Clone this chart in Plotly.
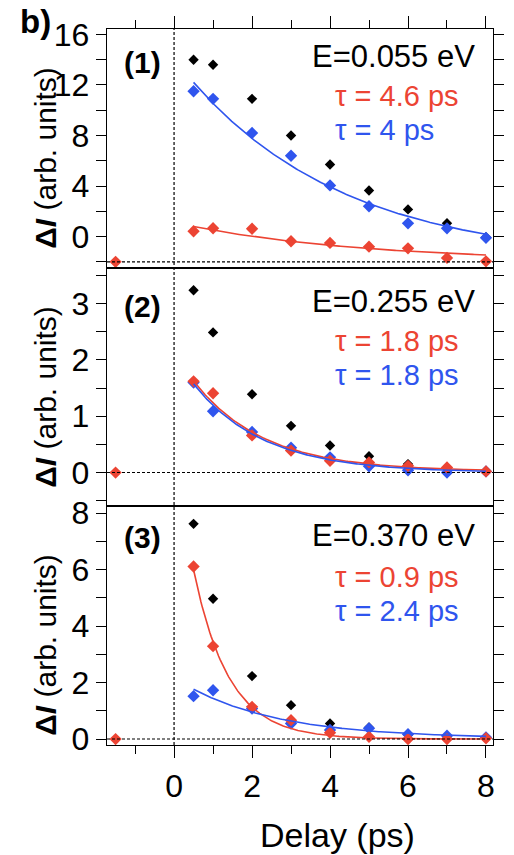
import numpy as np
import plotly.graph_objects as go
from plotly.subplots import make_subplots

# ---- data -------------------------------------------------------------
delay = [0.5, 1, 2, 3, 4, 5, 6, 7, 8]
delay_red = [-1.5, 0.5, 1, 2, 3, 4, 5, 6, 7, 8]

# panel (1), E = 0.055 eV
p1_black = [14.0, 13.6, 10.9, 8.0, 5.7, 3.65, 2.15, 1.05, -0.05]
p1_blue = [11.5, 10.9, 8.2, 6.4, 4.05, 2.4, 1.05, 0.65, -0.1]
p1_red = [-2.0, 0.42, 0.66, 0.62, -0.37, -0.5, -0.8, -0.93, -1.69, -1.96]

# panel (2), E = 0.255 eV
p2_black = [3.24, 2.49, 1.39, 0.83, 0.48, 0.29, 0.15, 0.08, 0.03]
p2_blue = [1.60, 1.09, 0.72, 0.44, 0.27, 0.11, 0.04, 0.0, 0.02]
p2_red = [0.0, 1.62, 1.41, 0.66, 0.39, 0.21, 0.18, 0.12, 0.09, 0.02]

# panel (3), E = 0.370 eV
p3_black = [7.62, 4.97, 2.23, 1.2, 0.55, 0.41, 0.15, 0.1, 0.06]
p3_blue = [1.52, 1.73, 1.08, 0.55, 0.32, 0.38, 0.17, 0.12, 0.06]
p3_red = [0.0, 6.11, 3.29, 1.14, 0.67, 0.22, 0.08, 0.0, 0.0, 0.03]

energies = ["E=0.055 eV", "E=0.255 eV", "E=0.370 eV"]
panel_tags = ["(1)", "(2)", "(3)"]

# exponential fits: (tau [ps], amplitude, offset)
fit_red = [(4.6, 3.12, -2.0), (1.8, 2.12, 0.02), (0.9, 10.45, 0.0)]
fit_blue = [(4.0, 16.1, -2.0), (1.8, 2.08, 0.0), (2.4, 2.15, 0.02)]
baselines = [-2.0, 0.0, 0.0]

x_ticks = [0, 2, 4, 6, 8]
y_ranges = [[-2.46, 16.43], [-0.6, 3.64], [-0.21, 8.24]]
y_dticks = [4, 1, 2]
x_range = [-1.72, 8.18]

RED = "#EC4433"
BLUE = "#2F55EE"
FONT = "Liberation Sans, Arial, Helvetica, sans-serif"

# ---- figure -----------------------------------------------------------
W, H = 514, 855
ML, MR, MT, MB = 107, 10, 29, 110
fig = make_subplots(rows=3, cols=1, shared_xaxes=False, vertical_spacing=0)

blacks = [p1_black, p2_black, p3_black]
blues = [p1_blue, p2_blue, p3_blue]
reds = [p1_red, p2_red, p3_red]

t_fit = np.linspace(0.5, 8, 200)
for i in range(3):
    row = i + 1
    fig.add_trace(go.Scatter(x=delay, y=blacks[i], mode="markers",
                             marker=dict(symbol="diamond", size=8, color="black"),
                             showlegend=False), row=row, col=1)
    fig.add_trace(go.Scatter(x=delay, y=blues[i], mode="markers",
                             marker=dict(symbol="diamond", size=9.5, color=BLUE),
                             showlegend=False), row=row, col=1)
    fig.add_trace(go.Scatter(x=delay_red, y=reds[i], mode="markers",
                             marker=dict(symbol="diamond", size=9.5, color=RED),
                             showlegend=False), row=row, col=1)
    for (tau, amp, off), col in ((fit_red[i], RED), (fit_blue[i], BLUE)):
        fig.add_trace(go.Scatter(x=t_fit, y=off + amp * np.exp(-t_fit / tau),
                                 mode="lines", line=dict(color=col, width=1.6),
                                 showlegend=False), row=row, col=1)

axis_common = dict(showgrid=False, zeroline=False, showline=True,
                   linecolor="black", linewidth=1.4, tickcolor="black",
                   tickwidth=1.3, tickfont=dict(family=FONT, size=32, color="black"))

for i in range(3):
    row = i + 1
    xa = dict(axis_common, range=x_range, tickvals=x_ticks, mirror=True)
    if row == 1:
        xa.update(side="top", ticks="outside", ticklen=12, showticklabels=False,
                  minor=dict(dtick=1, tick0=1, ticks="outside", ticklen=8,
                             tickcolor="black", tickwidth=1.3))
    elif row == 3:
        xa.update(ticks="outside", ticklen=12, showticklabels=True,
                  minor=dict(dtick=1, tick0=1, ticks="outside", ticklen=8,
                             tickcolor="black", tickwidth=1.3))
    else:
        xa.update(ticks="", showticklabels=False)
    fig.update_xaxes(xa, row=row, col=1)

    d = y_dticks[i]
    fig.update_yaxes(dict(axis_common, range=y_ranges[i], dtick=d, tick0=0,
                          ticks="outside", ticklen=10, mirror="ticks",
                          minor=dict(dtick=d / 2, tick0=0, ticks="outside",
                                     ticklen=10, tickcolor="black", tickwidth=1.3)),
                     row=row, col=1)

# dashed guides: time zero and the baselines
fig.add_shape(type="line", xref="x", yref="paper", x0=0, x1=0, y0=0, y1=1,
              line=dict(color="black", width=1.2, dash="3px,2px"))
for i, b in enumerate(baselines):
    yref = "y" if i == 0 else f"y{i + 1}"
    fig.add_shape(type="line", xref="paper", yref=yref, x0=0, x1=1, y0=b, y1=b,
                  line=dict(color="black", width=1.1, dash="3px,2px"))

PW, PH = W - ML - MR, H - MT - MB


def px(xp):
    return (xp - ML) / PW


def py(yp):
    return (H - MB - yp) / PH


ann = []
tag_y = [63, 306, 537]
e_y = [56, 302, 535]
tr_y = [96, 341, 577]
tb_y = [130, 375, 611]
ytitle_y = [158, 397, 645]
for i in range(3):
    ann.append(dict(text=f"<b>{panel_tags[i]}</b>", x=px(144), y=py(tag_y[i]),
                    xanchor="center", yanchor="middle",
                    font=dict(family=FONT, size=30, color="black")))
    ann.append(dict(text=energies[i], x=px(488), y=py(e_y[i]),
                    xanchor="right", yanchor="middle",
                    font=dict(family=FONT, size=31, color="black")))
    ann.append(dict(text=f"τ = {fit_red[i][0]:g} ps", x=px(339), y=py(tr_y[i]),
                    xanchor="left", yanchor="middle",
                    font=dict(family=FONT, size=29, color=RED)))
    ann.append(dict(text=f"τ = {fit_blue[i][0]:g} ps", x=px(339), y=py(tb_y[i]),
                    xanchor="left", yanchor="middle",
                    font=dict(family=FONT, size=29, color=BLUE)))
    ann.append(dict(text="<b>Δ<i>I</i></b> (arb. units)", x=px(43), y=py(ytitle_y[i]),
                    xanchor="center", yanchor="middle", textangle=-90,
                    font=dict(family=FONT, size=30, color="black")))

ann.append(dict(text="<b>b)</b>", x=px(33), y=py(22), xanchor="center",
                yanchor="middle", font=dict(family=FONT, size=33, color="black")))
ann.append(dict(text="Delay (ps)", x=px(344), y=py(835), xanchor="center",
                yanchor="middle", font=dict(family=FONT, size=34, color="black")))
for a in ann:
    a.update(xref="paper", yref="paper", showarrow=False)

fig.update_layout(width=W, height=H, margin=dict(l=ML, r=MR, t=MT, b=MB),
                  plot_bgcolor="white", paper_bgcolor="white",
                  annotations=ann, showlegend=False)

fig.write_html("out.html")
